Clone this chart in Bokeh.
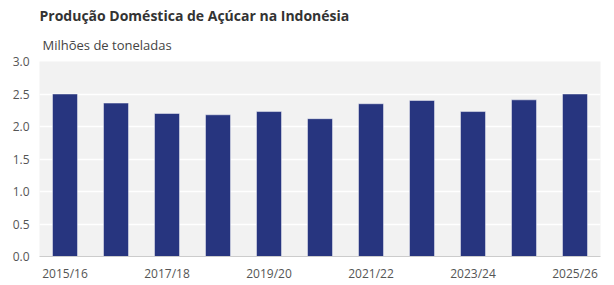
from bokeh.plotting import figure
from bokeh.models import Title, FixedTicker, ColumnDataSource, Range1d
from bokeh.embed import file_html
from bokeh.resources import INLINE

seasons = ["2015/16", "2016/17", "2017/18", "2018/19", "2019/20", "2020/21",
           "2021/22", "2022/23", "2023/24", "2024/25", "2025/26"]
production = [2.50, 2.36, 2.20, 2.18, 2.23, 2.12, 2.35, 2.40, 2.23, 2.41, 2.50]
y_ticks = [0.0, 0.5, 1.0, 1.5, 2.0, 2.5, 3.0]

FONT = "Open Sans"

idx = list(range(len(seasons)))
src = ColumnDataSource(dict(x=idx, top=production))

p = figure(width=614, height=285, output_backend="svg", toolbar_location=None,
           x_range=Range1d(-0.5, len(seasons) - 0.5), y_range=Range1d(0, 3.0),
           min_border_left=39, min_border_right=14, min_border_top=61,
           min_border_bottom=29, background_fill_color="#f2f2f2",
           border_fill_color="white", outline_line_color=None)

p.vbar(x="x", top="top", width=0.49, source=src, fill_color="#27357f",
       line_color="white", line_alpha=0.45, line_width=1)

# titles
sub = Title(text="Milhões de toneladas", text_font=FONT, text_font_size="13px",
            text_font_style="normal", text_color="#444444", align="left", offset=3,
            standoff=15)
p.add_layout(sub, "above")
p.title.text = "Produção Doméstica de Açúcar na Indonésia"
p.title.text_font = FONT
p.title.text_font_size = "14px"
p.title.text_font_style = "bold"
p.title.text_color = "#333333"
p.title.align = "left"
p.title.offset = 0
p.title.standoff = 3

# axes
p.xaxis.ticker = FixedTicker(ticks=idx[::2])
p.xaxis.major_label_overrides = {i: seasons[i] for i in idx}
p.yaxis.ticker = FixedTicker(ticks=y_ticks)
p.yaxis.major_label_overrides = {t: f"{t:.1f}" for t in y_ticks}
for ax in (p.xaxis, p.yaxis):
    ax.major_tick_line_color = None
    ax.minor_tick_line_color = None
    ax.major_tick_in = 0
    ax.major_tick_out = 0
    ax.major_label_text_font = FONT
    ax.major_label_text_font_size = "12px"
    ax.major_label_text_color = "#555555"
p.yaxis.axis_line_color = None
p.xaxis.axis_line_color = "#cccccc"
p.yaxis.major_label_standoff = 10
p.xaxis.major_label_standoff = 8

p.xgrid.grid_line_color = None
p.ygrid.grid_line_color = "white"
p.ygrid.grid_line_width = 1.5

open("out.html", "w").write(file_html(p, INLINE))
